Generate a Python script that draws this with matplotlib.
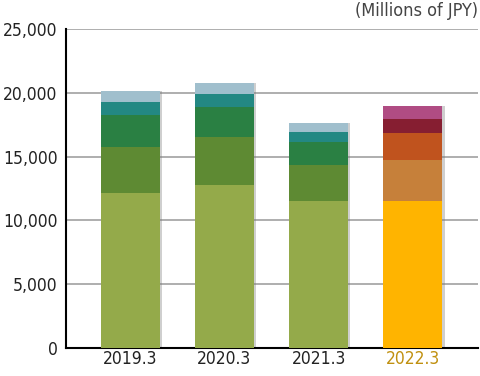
import matplotlib.pyplot as plt
import numpy as np

years = ['2019.3', '2020.3', '2021.3', '2022.3']
# stacked segments, bottom to top (millions of JPY)
seg1 = [12170, 12770, 11550, 11550]
seg2 = [3560, 3790, 2790, 3180]
seg3 = [2530, 2330, 1830, 2140]
seg4 = [1040, 1020, 780, 1080]
seg5 = [865, 860, 710, 1020]
segments = [seg1, seg2, seg3, seg4, seg5]

old_colors = ['#94aa4a', '#5e8a33', '#2a8043', '#238883', '#a0bfcd']
new_colors = ['#ffb400', '#c6803a', '#c0531e', '#861e31', '#b04c83']

fig = plt.figure(figsize=(4.8, 3.76), dpi=100)
ax = fig.add_axes([0.1375, 0.0745, 0.858, 0.848])

x = np.arange(len(years))
totals = np.sum(segments, axis=0)
# soft drop shadow behind each bar
ax.bar(x + 0.025, totals, width=0.625, color='#777777', alpha=0.35, zorder=2, linewidth=0)
bottom = np.zeros(len(years))
for k, seg in enumerate(segments):
    cols = [old_colors[k]] * 3 + [new_colors[k]]
    ax.bar(x, seg, bottom=bottom, width=0.625, color=cols, zorder=3, linewidth=0)
    bottom += np.array(seg)

ax.set_xlim(-0.68, 3.69)
ax.set_ylim(0, 25000)
ax.set_yticks(np.arange(0, 25001, 5000))
ax.set_yticklabels(['0', '5,000', '10,000', '15,000', '20,000', '25,000'])
ax.set_xticks(x)
ax.set_xticklabels(years)
ax.tick_params(axis='both', length=0, labelsize=12.5, colors='#222222')
ax.tick_params(axis='y', pad=6)
ax.tick_params(axis='x', pad=1.5)
for lab in ax.get_xticklabels() + ax.get_yticklabels():
    lab.set_fontstretch('condensed')
ax.get_xticklabels()[3].set_color('#c09010')

ax.yaxis.grid(True, color='#999999', linewidth=1.1, zorder=0)
ax.spines['top'].set_visible(False)
ax.spines['right'].set_visible(False)
ax.spines['left'].set_linewidth(1.5)
ax.spines['bottom'].set_linewidth(1.5)

fig.text(0.995, 0.97, '(Millions of JPY)', ha='right', va='center', fontsize=13,
         color='#444444', fontstretch='condensed')

fig.savefig('out.png', dpi=100)
